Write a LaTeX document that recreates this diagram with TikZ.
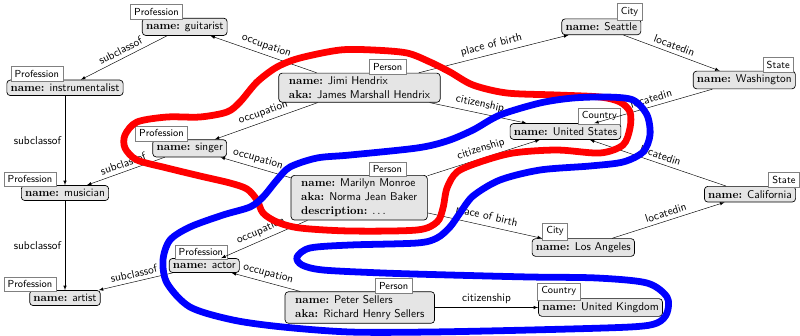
\documentclass[tikz,border=0pt]{standalone}
\usepackage{tikz}
\usetikzlibrary{arrows}
\definecolor{myred}{RGB}{255,0,0}
\definecolor{myblue}{RGB}{0,0,255}
\newcommand{\entattr}[2]{\textrm{\textbf{#1:}} #2}

\begin{document}
\begin{tikzpicture}[x=0.885pt,y=-0.885pt,font=\sffamily,>=latex,
    entity/.style={draw,semithick,rounded corners=3pt,fill=gray!20},
    person/.style={entity,align=left,inner xsep=9pt},
    typetag/.style={draw=gray,fill=white,font=\sffamily\small,yshift=-1.5pt},
    tag/.style 2 args={label={[typetag,xshift=#2]north:#1}},
    rel/.style={sloped,above},
    blob/.style={line width=6pt,line join=round}]
        \useasboundingbox (0,0) rectangle (800,335);
        % professions
        \node[entity,tag={Profession}{-25pt}] (guitarist) at (184.7,26.8) {\entattr{name}{guitarist}};
        \node[entity,tag={Profession}{-25pt}] (instrumentalist) at (65,87.8) {\entattr{name}{instrumentalist}};
        \node[entity,tag={Profession}{-25pt}] (singer) at (189.7,148.3) {\entattr{name}{singer}};
        \node[entity,tag={Profession}{-31pt}] (musician) at (65,193) {\entattr{name}{musician}};
        \node[entity,tag={Profession}{-3pt}] (actor) at (204.3,265.5) {\entattr{name}{actor}};
        \node[entity,tag={Profession}{-31pt}] (artist) at (65,298) {\entattr{name}{artist}};
        % persons
        \node[person,tag={Person}{25pt}] (jimi) at (359.5,87.7) {\entattr{name}{Jimi Hendrix}\\ \entattr{aka}{James Marshall Hendrix}};
        \node[person,tag={Person}{25pt}] (marilyn) at (359.2,197.7) {\entattr{name}{Marilyn Monroe}\\ \entattr{aka}{Norma Jean Baker}\\ \entattr{description}{$\ldots$}};
        \node[person,tag={Person}{30pt}] (peter) at (359.8,307.5) {\entattr{name}{Peter Sellers}\\ \entattr{aka}{Richard Henry Sellers}};
        % places
        \node[entity,tag={City}{25pt}] (seattle) at (601.3,26.8) {\entattr{name}{Seattle}};
        \node[entity,tag={State}{30pt}] (washington) at (744.3,80) {\entattr{name}{Washington}};
        \node[entity,tag={Country}{30pt}] (us) at (565.5,131.5) {\entattr{name}{United States}};
        \node[entity,tag={State}{30pt}] (california) at (750,194.2) {\entattr{name}{California}};
        \node[entity,tag={City}{-25pt}] (la) at (583.3,247.5) {\entattr{name}{Los Angeles}};
        \node[entity,tag={Country}{-37pt}] (uk) at (600.5,307.5) {\entattr{name}{United Kingdom}};

        \draw[->] (guitarist) -- node[rel] {subclassof} (instrumentalist);
        \draw[->] (instrumentalist) -- node[left] {subclassof} (musician);
        \draw[->] (singer) -- node[rel] {subclassof} (musician);
        \draw[->] (musician) -- node[left] {subclassof} (artist);
        \draw[->] (actor) -- node[rel] {subclassof} (artist);

        \draw[->] (jimi) -- node[rel] {occupation} (guitarist);
        \draw[->] (jimi) -- node[rel] {occupation} (singer);
        \draw[->] (jimi) -- node[rel] {place of birth} (seattle);
        \draw[->] (jimi) -- node[rel] {citizenship} (us);
        \draw[->] (marilyn) -- node[rel] {occupation} (singer);
        \draw[->] (marilyn) -- node[rel] {occupation} (actor);
        \draw[->] (marilyn) -- node[rel] {citizenship} (us);
        \draw[->] (marilyn) -- node[rel] {place of birth} (la);
        \draw[->] (peter) -- node[rel] {occupation} (actor);
        \draw[->] (peter) -- node[rel] {citizenship} (uk);

        \draw[->] (seattle) -- node[rel] {locatedin} (washington);
        \draw[->] (washington) -- node[rel] {locatedin} (us);
        \draw[->] (california) -- node[rel] {locatedin} (us);
        \draw[->] (la) -- node[rel] {locatedin} (california);

        % highlighted groups
        \draw[blob,myred] plot[smooth cycle] coordinates {(247,189) (257,200) (263,213) (277,222) (300,228) (350,231) (417,230) (437,222) (443,208) (447,188) (457,172) (480,162) (513,153) (557,150) (600,153) (623,145) (630,128) (630,112) (620,102) (600,97) (557,95) (507,93) (473,85) (450,72) (430,62) (407,53) (373,50) (340,50) (300,58) (277,67) (257,82) (240,102) (227,112) (200,117) (167,117) (137,122) (125,135) (125,148) (137,160) (167,168) (200,176) (230,183)};
        \draw[blob,myblue] plot[smooth cycle] coordinates {(350,155) (417,148) (447,141) (473,130) (500,115) (540,103) (573,98) (607,97) (633,100) (647,115) (650,135) (643,152) (623,162) (590,166) (540,170) (500,180) (473,196) (460,213) (450,227) (437,238) (417,243) (350,245) (310,248) (297,257) (302,265) (323,270) (383,273) (450,275) (530,277) (597,278) (647,283) (667,297) (667,313) (657,323) (630,327) (530,330) (430,332) (350,332) (283,327) (233,320) (190,307) (167,283) (163,260) (170,240) (190,227) (223,215) (250,207) (263,197) (277,180) (290,167) (317,158)};
\end{tikzpicture}
\end{document}
